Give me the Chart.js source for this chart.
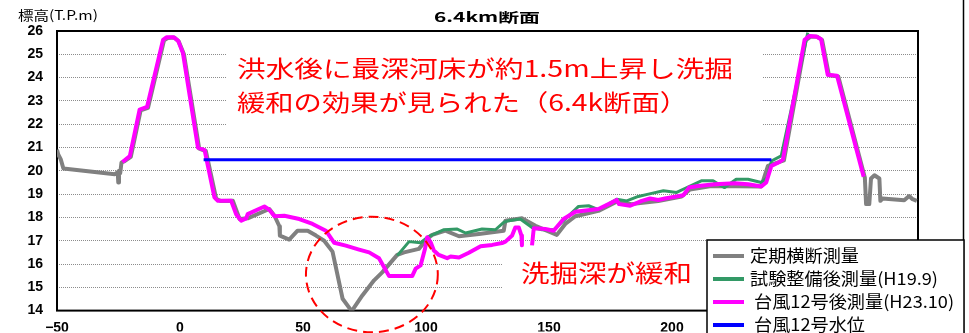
<!DOCTYPE html>
<html>
<head>
<meta charset="utf-8">
<script src="https://cdn.jsdelivr.net/npm/chart.js@4/dist/chart.umd.min.js"></script>
<style>
  body { margin: 0; background: #fff; }
  #wrap { width: 969px; height: 333px; }
</style>
</head>
<body>
<div id="wrap"><canvas id="chart" width="969" height="333"></canvas></div>
<script>
// === Cross-section data: distance (m) / elevation (T.P.m) ===
const periodicX = [-50, -49.5, -48.5, -47.4, -26.5, -25.3, -25.1, -24.8, -24.3, -23.8, -22.8, -20, -16, -13, -6.5, -5, -2.3, -0.5, 1.6, 7.8, 10.5, 14.7, 16.5, 21.5, 24.2, 27.5, 36.3, 38.4, 40.4, 40.6, 44.4, 47.8, 51.9, 55.3, 58.6, 62, 66.1, 69.8, 74.2, 78.9, 82.3, 88.3, 91.1, 97.1, 100.5, 102.5, 107.9, 113.4, 121.5, 131.6, 132.3, 139, 144.5, 153.2, 156.6, 160.7, 170.1, 177.5, 183.6, 194.4, 203.9, 207.3, 216, 236.3, 239, 245.5, 254.3, 256.2, 259, 261, 263.8, 267.6, 278.4, 278.9, 280.2, 280.9, 282.3, 284.3, 284.7, 285.6, 294.4, 296.4, 297.8, 299.5];
const periodicY = [20.9, 20.7, 20.5, 20.1, 19.85, 19.95, 19.5, 20.0, 19.9, 20.35, 20.4, 20.6, 22.6, 22.7, 25.6, 25.7, 25.72, 25.55, 25.0, 20.95, 20.85, 18.8, 18.7, 18.71, 17.93, 17.96, 18.36, 18.07, 17.62, 17.22, 17.05, 17.43, 17.43, 17.22, 17.0, 16.53, 14.51, 13.98, 14.66, 15.3, 15.65, 16.39, 16.5, 16.65, 17.08, 17.25, 17.43, 17.19, 17.29, 17.43, 17.86, 17.96, 17.64, 17.25, 17.72, 18.05, 18.28, 18.67, 18.57, 18.7, 18.9, 19.2, 19.35, 19.33, 20.21, 20.45, 25.6, 25.75, 25.75, 25.62, 24.1, 24.05, 19.7, 18.57, 18.57, 19.67, 19.81, 19.67, 18.71, 18.81, 18.74, 18.92, 18.78, 18.71];

const trialX = [88.3, 93.1, 97.8, 101.2, 107.3, 112.7, 116.1, 122.8, 128.2, 131.6, 133.6, 138.3, 143.1, 147.2, 151.9, 156.6, 162, 166.1, 170.1, 177.5, 181.6, 186.3, 190.4, 196.5, 201.9, 205.2, 211.9, 216.7, 219, 221.4, 226.1, 230.9, 236.3, 238.7, 240.4, 244.4, 255.2];
const trialY = [16.36, 16.96, 16.91, 17.19, 17.47, 17.5, 17.33, 17.5, 17.47, 17.79, 17.86, 17.93, 17.57, 17.47, 17.47, 17.93, 18.47, 18.5, 18.33, 18.78, 18.71, 18.9, 19.0, 19.14, 19.07, 19.24, 19.57, 19.57, 19.42, 19.28, 19.64, 19.64, 19.5, 19.71, 20.42, 20.64, 25.93];

// null = no survey point (gap in the line)
const typhoonX = [-23.4, -20.4, -16.4, -13.4, -6.9, -5.5, -2.6, -0.8, 1.2, 7.3, 10, 14, 15.4, 20.8, 22.8, 24.9, 26.9, 27.5, 34.3, 36.3, 38.4, 42.4, 48.5, 53.9, 59.3, 62.7, 67.4, 72.8, 76.9, 80.9, 85, 94.4, 95.8, 97.8, 99.6, 100.5, 101.9, 103.2, 105.2, 108.6, 110, 113.4, 117.4, 122.2, 126.9, 130.9, 132.3, 135, 136.3, 137.7, 138.8, 139, 141, 143.1, 143.8, 148.5, 151.9, 155.9, 160.7, 170.1, 174.2, 177.5, 178.5, 183, 187.7, 191.1, 194.4, 197.1, 204.6, 206.9, 210.6, 217.4, 225.5, 230.9, 236.3, 238.3, 240.4, 243.7, 245.1, 253.9, 255.9, 258.6, 260.6, 263.3, 267.1, 277.9];
const typhoonY = [20.38, 20.63, 22.63, 22.74, 25.62, 25.73, 25.73, 25.59, 25.05, 20.99, 20.89, 18.86, 18.71, 18.71, 18.14, 17.86, 17.96, 18.14, 18.47, 18.33, 18.05, 18.07, 17.93, 17.72, 17.43, 16.91, 16.79, 16.62, 16.5, 16.25, 15.48, 15.48, 15.8, 15.94, 16.65, 17.15, 16.93, 16.58, 16.39, 16.25, 16.32, 16.28, 16.48, 16.76, 16.82, 16.9, 16.96, 17.22, 17.57, 17.57, 17.22, 16.8, null, 16.8, 17.53, 17.5, 17.43, 17.93, 18.24, 18.36, 18.57, 18.75, 18.57, 18.5, 18.71, 18.81, 18.75, 18.81, 18.95, 19.28, 19.35, 19.42, 19.47, 19.42, 19.33, 19.5, 20.21, 20.38, 20.49, 25.62, 25.79, 25.76, 25.65, 24.12, 24.08, 19.75];

const waterX = [9.6, 240.4];
const waterY = [20.47, 20.47];

const seriesNames = ["定期横断測量", "試験整備後測量(H19.9)", "台風12号後測量(H23.10)", "台風12号水位"];
const seriesColors = ["#808080", "#339966", "#ff00ff", "#0000ff"];
const xTickValues = [-50, 0, 50, 100, 150, 200, 250, 300];
const yTickValues = [14, 15, 16, 17, 18, 19, 20, 21, 22, 23, 24, 25, 26];

const JP = '"Noto Sans CJK JP", sans-serif';

function toPoints(xs, ys) {
  return xs.map((x, i) => ({ x: x, y: ys[i] }));
}

// draw a line of text stretched to a given width
function fitText(ctx, str, x, y, width, font, color) {
  ctx.save();
  ctx.font = font;
  ctx.fillStyle = color;
  ctx.textBaseline = "middle";
  ctx.textAlign = "left";
  const w = ctx.measureText(str).width;
  ctx.translate(x, y);
  ctx.scale(width / w, 1);
  ctx.fillText(str, 0, 0);
  ctx.restore();
}

const overlay = {
  id: "overlay",
  beforeDatasetsDraw(chart) {
    const ctx = chart.ctx;
    const a = chart.chartArea;
    ctx.save();
    // white panels behind the notes
    ctx.fillStyle = "#fff";
    ctx.fillRect(227, 42, 535, 92);
    ctx.fillRect(503, 248, 204, 56);
    // plot frame
    ctx.strokeStyle = "#000";
    ctx.lineWidth = 2;
    ctx.strokeRect(a.left, a.top, a.right - a.left, a.bottom - a.top);
    ctx.restore();
  },
  afterDatasetsDraw(chart) {
    const ctx = chart.ctx;
    const xs = chart.scales.x, ys = chart.scales.y;
    // dashed ring around the deepest point
    const cx = xs.getPixelForValue(78), cy = ys.getPixelForValue(15.55);
    const rx = xs.getPixelForValue(78 + 26.8) - cx;
    const ry = cy - ys.getPixelForValue(15.55 + 2.48);
    ctx.save();
    ctx.strokeStyle = "#ff0000";
    ctx.lineWidth = 2;
    ctx.setLineDash([10, 6]);
    ctx.beginPath();
    ctx.ellipse(cx, cy, rx, ry, 0, 0, Math.PI * 2);
    ctx.stroke();
    ctx.restore();

    fitText(ctx, "洪水後に最深河床が約1.5m上昇し洗掘", 237, 68, 496, "23px " + JP, "#ff0000");
    fitText(ctx, "緩和の効果が見られた（6.4k断面）", 237, 102, 451, "23px " + JP, "#ff0000");
    fitText(ctx, "洗掘深が緩和", 521, 273, 171, "24px " + JP, "#ff0000");
  },
  afterDraw(chart) {
    const ctx = chart.ctx;
    // titles
    fitText(ctx, "標高(T.P.m)", 18, 15, 80, "13px " + JP, "#000");
    fitText(ctx, "6.4km断面", 434, 17, 106, "bold 13px " + JP, "#000");

    // outer frame edge
    ctx.save();
    ctx.strokeStyle = "#000";
    ctx.lineWidth = 1.5;
    ctx.beginPath();
    ctx.moveTo(963.5, 0);
    ctx.lineTo(963.5, 333);
    ctx.stroke();

    // legend box
    ctx.fillStyle = "#fff";
    ctx.fillRect(707, 240, 257, 100);
    ctx.strokeRect(707, 240, 257, 100);
    const rowY = [256, 279, 302, 325];
    const textX = [750, 750, 754, 754];
    ctx.font = "17px " + JP;
    const sx = 188 / ctx.measureText(seriesNames[1]).width;
    seriesNames.forEach((name, i) => {
      ctx.strokeStyle = seriesColors[i];
      ctx.lineWidth = 4;
      ctx.beginPath();
      ctx.moveTo(713, rowY[i]);
      ctx.lineTo(744, rowY[i]);
      ctx.stroke();
      ctx.save();
      ctx.fillStyle = "#000";
      ctx.textBaseline = "middle";
      ctx.translate(textX[i], rowY[i]);
      ctx.scale(sx, 1);
      ctx.fillText(name, 0, 0);
      ctx.restore();
    });
    ctx.restore();
  }
};

const datasets = [
  { label: seriesNames[0], data: toPoints(periodicX, periodicY), borderColor: seriesColors[0], borderWidth: 4, order: 4 },
  { label: seriesNames[1], data: toPoints(trialX, trialY), borderColor: seriesColors[1], borderWidth: 3, order: 3 },
  { label: seriesNames[2], data: toPoints(typhoonX, typhoonY), borderColor: seriesColors[2], borderWidth: 4, order: 2 },
  { label: seriesNames[3], data: toPoints(waterX, waterY), borderColor: seriesColors[3], borderWidth: 3, order: 1 }
];
datasets.forEach(d => {
  d.pointRadius = 0;
  d.tension = 0;
  d.fill = false;
  d.spanGaps = false;
  d.borderJoinStyle = "round";
});

const tickFont = { family: '"Liberation Sans", Arial, sans-serif', size: 14, weight: "bold" };

new Chart(document.getElementById("chart"), {
  type: "line",
  data: { datasets: datasets },
  options: {
    responsive: false,
    animation: false,
    layout: { padding: { top: 31, right: 51, left: 0, bottom: 0 } },
    plugins: { legend: { display: false }, tooltip: { enabled: false } },
    scales: {
      x: {
        type: "linear",
        min: -50,
        max: 300,
        afterFit: s => { s.height = 21; },
        afterBuildTicks: s => { s.ticks = xTickValues.map(v => ({ value: v })); },
        grid: { display: false },
        border: { display: false },
        ticks: {
          color: "#000",
          font: tickFont,
          padding: 1,
          maxRotation: 0,
          callback: v => (v < 0 ? "\u2212" + Math.abs(v) : String(v))
        }
      },
      y: {
        min: 14,
        max: 26,
        afterFit: s => { s.width = 57; },
        afterBuildTicks: s => { s.ticks = yTickValues.map(v => ({ value: v })); },
        grid: { color: "#8c8c8c", lineWidth: 1, drawTicks: false },
        border: { display: false, dash: [1, 1] },
        ticks: { color: "#000", font: tickFont, padding: 14 }
      }
    }
  },
  plugins: [overlay]
});
</script>
</body>
</html>
